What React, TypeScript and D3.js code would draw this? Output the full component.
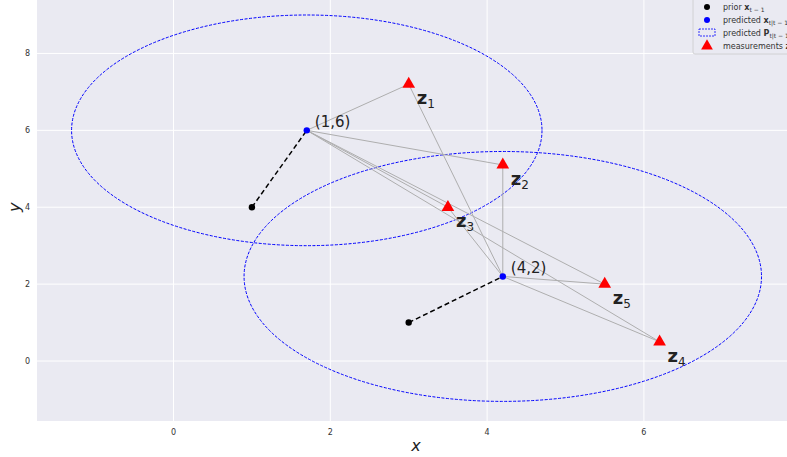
import React from 'react';
import * as d3 from 'd3';

// prior states x_{t-1}
const priors = [
  { x: 1.0, y: 4.0 },
  { x: 3.0, y: 1.0 },
];
// predicted states x_{t|t-1}, with the radius of the covariance ellipse
const predicted = [
  { x: 1.7, y: 6.0, label: '(1,6)', rx: 3.0, ry: 3.0 },
  { x: 4.2, y: 2.2, label: '(4,2)', rx: 3.3, ry: 3.25 },
];
// measurements z_t
const measurements = [
  { x: 3.0, y: 7.2, name: '1' },
  { x: 4.2, y: 5.1, name: '2' },
  { x: 3.5, y: 4.0, name: '3' },
  { x: 6.2, y: 0.5, name: '4' },
  { x: 5.5, y: 2.0, name: '5' },
];
const xTicks = [0, 2, 4, 6];
const yTicks = [0, 2, 4, 6, 8];

const width = 787;
const height = 457;
const left = 37;
const bottom = 421;

const App = () => {
  const x = d3.scaleLinear().domain([-1.741, 7.825]).range([left, width]);
  const y = d3.scaleLinear().domain([-1.56, 9.39]).range([bottom, 0]);
  const tri = d3.symbol().type(d3.symbolTriangle).size(70);
  const font = 'DejaVu Sans, sans-serif';

  const sub = (main, s, size) => (
    <>
      <tspan fontWeight="bold">{main}</tspan>
      <tspan fontSize={size} dy={size * 0.35}>{s}</tspan>
    </>
  );

  return (
    <svg width={width} height={height} style={{ position: 'absolute', left: 0, top: 0 }} fontFamily={font}>
      <rect x={left} y={0} width={width - left} height={bottom} fill="#EAEAF2" />
      {xTicks.map((t) => (
        <g key={'x' + t}>
          <line x1={x(t)} x2={x(t)} y1={0} y2={bottom} stroke="white" strokeWidth={1} />
          <text x={x(t)} y={435} fontSize={8} fill="#333" textAnchor="middle">{t}</text>
        </g>
      ))}
      {yTicks.map((t) => (
        <g key={'y' + t}>
          <line x1={left} x2={width} y1={y(t)} y2={y(t)} stroke="white" strokeWidth={1} />
          <text x={30} y={y(t) + 3} fontSize={8} fill="#333" textAnchor="end">{t}</text>
        </g>
      ))}
      <text x={416} y={451} fontSize={16} fontStyle="italic" fill="#222" textAnchor="middle">x</text>
      <text transform={`translate(20,${y(4)}) rotate(-90)`} fontSize={16} fontStyle="italic" fill="#222" textAnchor="middle">y</text>

      {predicted.map((p, i) => (
        <ellipse key={'e' + i} cx={x(p.x)} cy={y(p.y)} rx={x(p.x + p.rx) - x(p.x)} ry={y(p.y) - y(p.y + p.ry)}
          fill="none" stroke="blue" strokeWidth={1} strokeDasharray="3,1.5" />
      ))}

      {predicted.map((p, i) =>
        measurements.map((m) => (
          <line key={'g' + i + m.name} x1={x(p.x)} y1={y(p.y)} x2={x(m.x)} y2={y(m.y)} stroke="#aeaeae" strokeWidth={1} />
        ))
      )}

      {priors.map((p, i) => (
        <line key={'d' + i} x1={x(p.x)} y1={y(p.y)} x2={x(predicted[i].x)} y2={y(predicted[i].y)}
          stroke="black" strokeWidth={1.5} strokeDasharray="5,3" />
      ))}
      {priors.map((p, i) => (
        <circle key={'p' + i} cx={x(p.x)} cy={y(p.y)} r={3.2} fill="black" />
      ))}
      {predicted.map((p, i) => (
        <g key={'b' + i}>
          <circle cx={x(p.x)} cy={y(p.y)} r={3.2} fill="blue" />
          <text x={x(p.x) + 8} y={y(p.y) - 3} fontSize={15} fill="#222">{p.label}</text>
        </g>
      ))}
      {measurements.map((m) => (
        <g key={'m' + m.name}>
          <path d={tri()} transform={`translate(${x(m.x)},${y(m.y)})`} fill="red" />
          <text x={x(m.x) + 8} y={y(m.y) + 20} fontSize={18} fill="#222">{sub('z', m.name, 12)}</text>
        </g>
      ))}

      <g transform="translate(693,0)" fontSize={8} fill="#333">
        <rect x={0} y={-2} width={100} height={56} rx={2} fill="#EAEAF2" stroke="#ccc" strokeWidth={0.8} />
        <circle cx={14} cy={7} r={3} fill="black" />
        <text x={30} y={10}>prior {sub('x', 't − 1', 6)}</text>
        <circle cx={14} cy={20} r={3} fill="blue" />
        <text x={30} y={23}>predicted {sub('x', 't|t − 1', 6)}</text>
        <rect x={6} y={29} width={16} height={7} fill="none" stroke="blue" strokeWidth={0.8} strokeDasharray="2,1" />
        <text x={30} y={36}>predicted {sub('P', 't|t − 1', 6)}</text>
        <path d={d3.symbol().type(d3.symbolTriangle).size(60)()} transform="translate(14,46)" fill="red" />
        <text x={30} y={49}>measurements {sub('z', 't', 6)}</text>
      </g>
    </svg>
  );
};

export default App;
